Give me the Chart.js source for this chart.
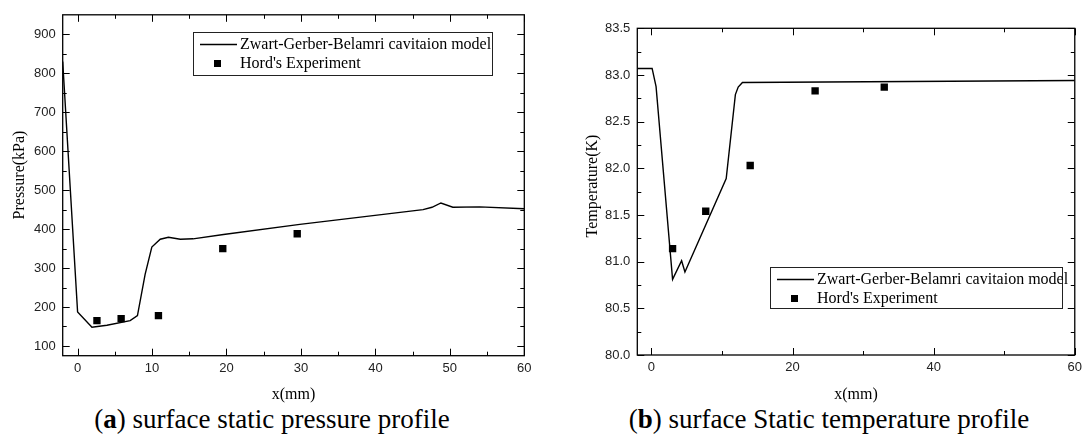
<!DOCTYPE html>
<html><head><meta charset="utf-8">
<script src="https://cdn.jsdelivr.net/npm/chart.js@4.4.0/dist/chart.umd.min.js"></script>
<style>
html,body{margin:0;padding:0;background:#fff;width:1087px;height:446px;overflow:hidden;position:relative}
#wa{position:absolute;left:0;top:0;width:545px;height:404px}
#wb{position:absolute;left:545px;top:0;width:542px;height:404px}
.cap{position:absolute;top:404px;font-family:"Liberation Serif",serif;font-size:27px;line-height:30px;color:#000;white-space:nowrap;transform:translateX(-50%)}
</style></head><body>
<div id="wa"><canvas id="ca"></canvas></div>
<div id="wb"><canvas id="cb"></canvas></div>
<div class="cap" style="left:272px">(<b>a</b>) surface static pressure profile</div>
<div class="cap" style="left:829px">(<b>b</b>) surface Static temperature profile</div>
<script>
// ---------- data (a) pressure ----------
const pressureModelX = [-2, 0, 1.93, 3.94, 7.06, 8.04, 9.07, 9.97, 11.1, 12.2, 13.8, 15.5, 19.6, 29.85, 46.4, 47.6, 48.8, 50.4, 54, 60];
const pressureModelY = [830, 187, 148, 153, 165, 178, 284, 354, 374, 379, 374, 375, 386, 412, 450, 456, 467, 456, 457, 452];
const pressureExpX = [2.6, 5.85, 10.86, 19.5, 29.5];
const pressureExpY = [165, 170, 178, 350, 388];
const pressureXTicks = [0, 10, 20, 30, 40, 50, 60];
const pressureXMinor = [5, 15, 25, 35, 45, 55];
const pressureYTicks = [100, 200, 300, 400, 500, 600, 700, 800, 900];
const pressureYMinor = [150, 250, 350, 450, 550, 650, 750, 850];

// ---------- data (b) temperature ----------
const tempModelX = [-2, 0.1, 0.66, 3.0, 4.28, 4.75, 10.6, 11.9, 12.3, 12.9, 60];
const tempModelY = [83.07, 83.07, 82.875, 80.81, 81.01, 80.89, 81.89, 82.79, 82.87, 82.92, 82.94];
const tempExpX = [3.0, 7.7, 14.0, 23.2, 33.0];
const tempExpY = [81.14, 81.54, 82.03, 82.83, 82.87];
const tempXTicks = [0, 20, 40, 60];
const tempXMinor = [10, 30, 50];
const tempYTicks = [80.0, 80.5, 81.0, 81.5, 82.0, 82.5, 83.0, 83.5];
const tempYMinor = [80.25, 80.75, 81.25, 81.75, 82.25, 82.75, 83.25];

const modelLabel = 'Zwart-Gerber-Belamri cavitaion model';
const expLabel = "Hord's Experiment";

function pts(xs, ys){ return xs.map((x,i)=>({x:x, y:ys[i]})); }

const framePlugin = {
  id: 'frame',
  afterDraw(chart, args, o) {
    const ctx = chart.ctx, a = chart.chartArea, sx = chart.scales.x, sy = chart.scales.y;
    ctx.save();
    ctx.strokeStyle = '#000';
    ctx.lineWidth = 1.3;
    ctx.strokeRect(a.left, a.top, a.right - a.left, a.bottom - a.top);
    ctx.lineWidth = 1;
    const maj = 7, mi = 4;
    ctx.beginPath();
    const hx = (v, L) => { const p = Math.round(sx.getPixelForValue(v)) + 0.5;
      ctx.moveTo(p, a.bottom); ctx.lineTo(p, a.bottom - L);
      ctx.moveTo(p, a.top); ctx.lineTo(p, a.top + L); };
    const vy = (v, L) => { const p = Math.round(sy.getPixelForValue(v)) + 0.5;
      ctx.moveTo(a.left, p); ctx.lineTo(a.left + L, p);
      ctx.moveTo(a.right, p); ctx.lineTo(a.right - L, p); };
    o.xMajor.forEach(v => hx(v, maj));
    o.xMinor.forEach(v => hx(v, mi));
    o.yMajor.forEach(v => vy(v, maj));
    o.yMinor.forEach(v => vy(v, mi));
    ctx.stroke();
    // y axis title
    ctx.fillStyle = '#000';
    ctx.font = '16px "Liberation Serif"';
    ctx.textAlign = 'center'; ctx.textBaseline = 'middle';
    ctx.translate(o.titleX, o.titleY);
    ctx.rotate(-Math.PI / 2);
    ctx.fillText(o.yTitle, 0, 0);
    ctx.restore();
    // legend
    const L = o.legend;
    ctx.save();
    ctx.fillStyle = '#fff';
    ctx.fillRect(L.x, L.y, L.w, L.h);
    ctx.strokeStyle = '#222'; ctx.lineWidth = 1;
    ctx.strokeRect(L.x + 0.5, L.y + 0.5, L.w, L.h);
    const d0 = chart.data.datasets[0], d1 = chart.data.datasets[1];
    ctx.strokeStyle = d0.borderColor; ctx.lineWidth = 1.3;
    ctx.beginPath(); ctx.moveTo(L.x + 7, L.y + 12.5); ctx.lineTo(L.x + 44, L.y + 12.5); ctx.stroke();
    ctx.fillStyle = d1.backgroundColor;
    ctx.fillRect(L.x + 21, L.y + 28, 7, 7);
    ctx.fillStyle = '#000';
    ctx.font = '16px "Liberation Serif"';
    ctx.textAlign = 'left'; ctx.textBaseline = 'middle';
    ctx.fillText(d0.label, L.x + 47, L.y + 12.5);
    ctx.fillText(d1.label, L.x + 47, L.y + 31.5);
    ctx.restore();
  }
};

function makeChart(id, cfg) {
  return new Chart(document.getElementById(id), {
    type: 'scatter',
    data: { datasets: [
      { label: modelLabel, data: pts(cfg.mx, cfg.my), showLine: true, borderColor: '#000', backgroundColor: '#000',
        borderWidth: 1.4, pointRadius: 0, tension: 0, order: 2 },
      { label: expLabel, data: pts(cfg.ex, cfg.ey), pointStyle: 'rect', pointRadius: 5.2,
        backgroundColor: '#000', borderColor: '#000', borderWidth: 0, order: 1 }
    ]},
    options: {
      responsive: true, maintainAspectRatio: false, animation: false,
      devicePixelRatio: 1,
      layout: { padding: cfg.pad },
      plugins: { legend: { display: false }, tooltip: { enabled: false }, frame: cfg.frame },
      scales: {
        x: { type: 'linear', min: cfg.xmin, max: cfg.xmax,
          grid: { display: false, drawTicks: false }, border: { display: false },
          afterBuildTicks: s => { s.ticks = cfg.xt.map(v => ({ value: v })); },
          afterFit: s => { s.height = cfg.xh; },
          ticks: { autoSkip: false, maxRotation: 0, padding: 5, color: '#222',
            font: { family: '"Liberation Sans", Arial', size: 13 }, callback: v => String(v) },
          title: { display: true, text: 'x(mm)', color: '#000', padding: { top: 0, bottom: 0 },
            font: { family: '"Liberation Serif"', size: 16 } }
        },
        y: { type: 'linear', min: cfg.ymin, max: cfg.ymax,
          grid: { display: false, drawTicks: false }, border: { display: false },
          afterBuildTicks: s => { s.ticks = cfg.yt.map(v => ({ value: v })); },
          afterFit: s => { s.width = cfg.yw; },
          ticks: { autoSkip: false, padding: 7, color: '#222',
            font: { family: '"Liberation Sans", Arial', size: 13 }, callback: cfg.yfmt }
        }
      }
    },
    plugins: [framePlugin]
  });
}

makeChart('ca', {
  mx: pressureModelX, my: pressureModelY, ex: pressureExpX, ey: pressureExpY,
  xmin: -2, xmax: 60, ymin: 75, ymax: 950, xt: pressureXTicks, yt: pressureYTicks,
  xh: 48.3, yw: 62.7, pad: { top: 12, right: 20.7, left: 0, bottom: 0 },
  yfmt: v => String(v),
  frame: { xMajor: pressureXTicks, xMinor: pressureXMinor, yMajor: pressureYTicks, yMinor: pressureYMinor,
    yTitle: 'Pressure(kPa)', titleX: 20, titleY: 175,
    legend: { x: 193, y: 32, w: 299, h: 43 } }
});

makeChart('cb', {
  mx: tempModelX, my: tempModelY, ex: tempExpX, ey: tempExpY,
  xmin: -2, xmax: 60, ymin: 80, ymax: 83.5, xt: tempXTicks, yt: tempYTicks,
  xh: 49, yw: 92.3, pad: { top: 28.3, right: 10, left: 0, bottom: 0 },
  yfmt: v => Number(v).toFixed(1),
  frame: { xMajor: tempXTicks, xMinor: tempXMinor, yMajor: tempYTicks, yMinor: tempYMinor,
    yTitle: 'Temperature(K)', titleX: 48, titleY: 186,
    legend: { x: 225, y: 267, w: 292, h: 41 } }
});
</script>
</body></html>
